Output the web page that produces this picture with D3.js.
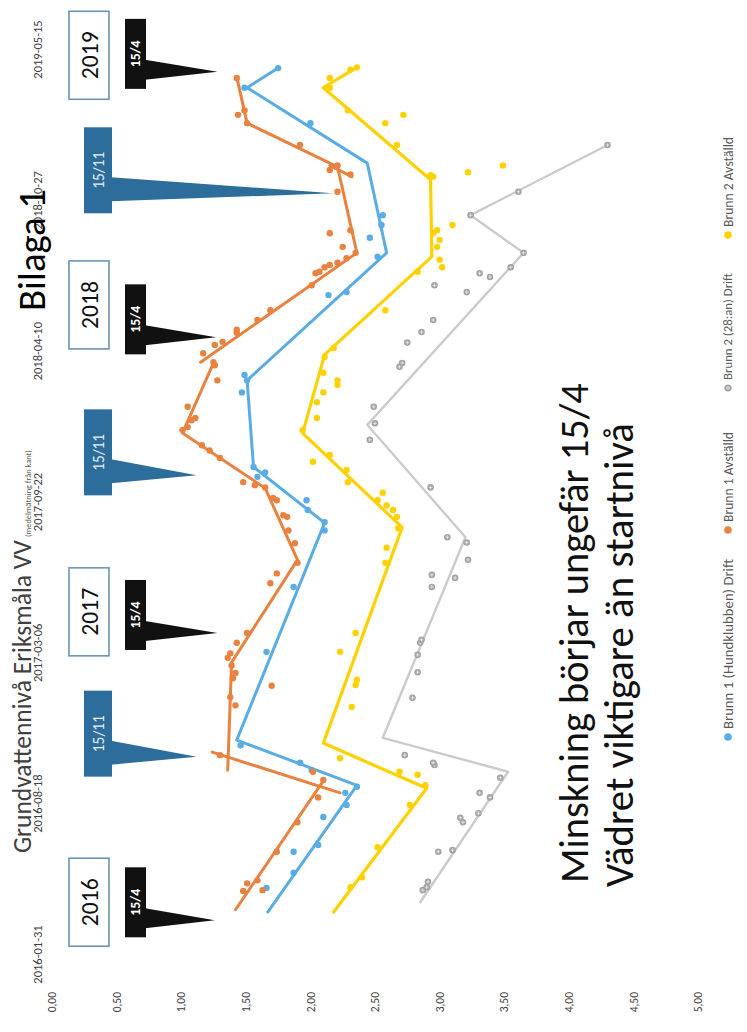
<!DOCTYPE html>
<html><head><meta charset="utf-8">
<script src="https://cdn.jsdelivr.net/npm/d3@7"></script>
<style>
body{margin:0;background:#fff}
svg{display:block}
text{font-family:Carlito,Lato,"Open Sans",sans-serif}
</style></head>
<body><svg id="c" width="747" height="1032"></svg>
<script>
// ---------------- DATA ----------------
const dateTicks = ["2016-01-31","2016-08-18","2017-03-06","2017-09-22","2018-04-10","2018-10-27","2019-05-15"];
const valueTicks = [0,0.5,1,1.5,2,2.5,3,3.5,4,4.5,5];
const seriesNames = ["Brunn 1 (Hundklubben) Drift","Brunn 1 Avställd","Brunn 2 (28:an) Drift","Brunn 2 Avställd"];

// Brunn 1 (Hundklubben) Drift – blue
const brunn1DriftPoints = [["2016-04-29",1.66],["2016-05-19",1.87],["2016-06-16",1.87],["2016-06-25",2.06],["2016-08-01",2.10],["2016-08-17",2.28],["2016-09-02",2.27],["2016-09-10",2.36],["2016-10-02",2.01],["2016-10-12",1.92],["2016-11-04",1.46],["2017-03-08",1.66],["2017-06-02",1.87],["2017-08-16",2.11],["2017-08-27",2.11],["2017-09-12",1.98],["2017-09-25",1.97],["2017-10-26",1.59],["2017-11-01",1.65],["2017-11-08",1.56],["2018-02-15",1.47],["2018-03-03",1.51],["2018-03-10",1.49],["2018-06-24",2.14],["2018-06-28",2.28],["2018-08-14",2.52],["2018-09-08",2.46],["2018-09-25",2.55],["2018-10-08",2.56],["2019-02-07",2.00],["2019-03-26",1.49],["2019-04-21",1.75]];
const brunn1DriftLines = [[["2016-03-28",1.67],["2016-09-12",2.36],["2016-11-11",1.43],["2017-08-26",2.11],["2017-11-08",1.56],["2018-03-03",1.51],["2018-08-19",2.59],["2018-12-16",2.44],["2019-03-26",1.51],["2019-04-21",1.75]]];

// Brunn 1 Avställd – orange
const brunn1AvstPoints = [["2016-04-25",1.48],["2016-04-26",1.63],["2016-05-05",1.51],["2016-05-09",1.59],["2016-06-16",1.74],["2016-07-25",1.90],["2016-08-27",2.06],["2016-09-19",2.10],["2016-09-30",2.02],["2016-10-22",1.30],["2016-12-27",1.42],["2017-01-07",1.38],["2017-01-22",1.70],["2017-02-01",1.40],["2017-02-08",1.42],["2017-02-18",1.39],["2017-02-28",1.36],["2017-03-06",1.38],["2017-03-20",1.43],["2017-04-02",1.51],["2017-06-07",1.69],["2017-06-20",1.74],["2017-07-04",1.90],["2017-07-30",1.88],["2017-08-16",1.83],["2017-09-03",1.82],["2017-09-05",1.79],["2017-09-25",1.74],["2017-09-28",1.71],["2017-10-12",1.65],["2017-10-15",1.57],["2017-10-19",1.48],["2017-11-20",1.30],["2017-11-30",1.22],["2017-12-07",1.16],["2017-12-27",1.01],["2017-12-31",1.05],["2018-01-09",1.08],["2018-01-12",1.11],["2018-01-27",1.05],["2018-03-03",1.28],["2018-03-23",1.26],["2018-03-27",1.25],["2018-04-08",1.17],["2018-04-19",1.26],["2018-04-23",1.32],["2018-05-05",1.43],["2018-05-09",1.43],["2018-05-22",1.59],["2018-06-04",1.69],["2018-07-07",2.01],["2018-07-23",2.04],["2018-07-25",2.07],["2018-07-31",2.11],["2018-08-03",2.15],["2018-08-06",2.21],["2018-08-12",2.28],["2018-08-19",2.35],["2018-08-27",2.25],["2018-09-14",2.15],["2018-09-18",2.31],["2018-11-08",2.21],["2018-12-01",2.31],["2018-12-07",2.15],["2018-12-13",2.21],["2019-01-09",1.92],["2019-02-07",1.51],["2019-02-18",1.44],["2019-02-24",1.49],["2019-04-08",1.43]];
const brunn1AvstLines = [
  [["2016-03-31",1.42],["2016-09-18",2.10]],
  [["2016-09-02",2.23],["2016-10-26",1.24]],
  [["2016-10-02",1.36],["2017-02-22",1.39],["2017-07-08",1.90],["2017-10-11",1.65],["2017-12-23",1.01],["2018-03-26",1.25]],
  [["2018-03-27",1.15],["2018-08-19",2.36],["2018-12-11",2.21],["2019-02-07",1.51],["2019-04-09",1.43]],
  [["2018-11-28",2.32],["2018-12-13",2.15]]
];

// Brunn 2 (28:an) Drift – gray
const brunn2DriftPoints = [["2016-04-26",2.87],["2016-04-30",2.90],["2016-05-07",2.91],["2016-06-16",2.99],["2016-06-18",3.10],["2016-07-25",3.18],["2016-07-31",3.16],["2016-08-06",3.30],["2016-08-27",3.39],["2016-09-02",3.31],["2016-09-22",3.47],["2016-10-09",2.96],["2016-10-12",2.95],["2016-10-22",2.73],["2017-01-06",2.79],["2017-02-09",2.83],["2017-03-04",2.83],["2017-03-20",2.85],["2017-03-24",2.86],["2017-06-02",2.94],["2017-06-14",3.12],["2017-06-18",2.94],["2017-07-08",3.22],["2017-07-31",3.21],["2017-08-07",3.06],["2017-10-12",2.93],["2017-12-14",2.46],["2018-01-05",2.50],["2018-01-27",2.49],["2018-03-21",2.69],["2018-03-26",2.71],["2018-04-22",2.75],["2018-05-06",2.86],["2018-05-22",2.95],["2018-06-28",3.21],["2018-07-07",2.96],["2018-07-18",3.39],["2018-07-23",3.31],["2018-07-31",3.55],["2018-08-19",3.65],["2018-10-08",3.24],["2018-11-08",3.61],["2019-01-09",4.30]];
const brunn2DriftLines = [[["2016-04-10",2.85],["2016-09-30",3.53],["2016-11-14",2.56],["2017-08-07",3.20],["2018-01-03",2.44],["2018-08-19",3.65],["2018-10-08",3.24],["2019-01-09",4.30]]];

// Brunn 2 Avställd – yellow
const brunn2AvstPoints = [["2016-04-30",2.31],["2016-05-13",2.40],["2016-06-22",2.52],["2016-08-17",2.77],["2016-09-12",2.89],["2016-09-26",2.83],["2016-09-30",2.69],["2016-10-18",2.23],["2016-12-25",2.32],["2017-01-23",2.35],["2017-01-30",2.36],["2017-03-08",2.23],["2017-04-02",2.35],["2017-07-04",2.58],["2017-07-24",2.59],["2017-08-19",2.68],["2017-09-03",2.67],["2017-09-12",2.64],["2017-09-18",2.59],["2017-09-25",2.52],["2017-10-05",2.56],["2017-10-19",2.29],["2017-11-04",2.28],["2017-11-15",2.02],["2017-11-24",2.15],["2017-12-27",1.94],["2018-01-12",2.05],["2018-02-02",2.05],["2018-02-15",2.10],["2018-02-25",2.21],["2018-03-03",2.21],["2018-03-13",2.10],["2018-04-03",2.11],["2018-04-15",2.18],["2018-06-04",2.58],["2018-07-25",2.83],["2018-07-31",3.02],["2018-08-10",3.00],["2018-08-27",2.98],["2018-09-05",3.00],["2018-09-14",2.95],["2018-09-18",2.98],["2018-09-25",3.10],["2018-11-28",2.95],["2018-11-30",2.93],["2018-12-04",3.22],["2018-12-13",3.49],["2019-01-09",2.67],["2019-02-07",2.58],["2019-02-18",2.72],["2019-02-24",2.29],["2019-03-26",2.15],["2019-04-08",2.15],["2019-04-19",2.31],["2019-04-22",2.36]];
const brunn2AvstLines = [[["2016-03-28",2.18],["2016-09-08",2.90],["2016-11-07",2.10],["2017-08-20",2.71],["2017-12-23",1.94],["2018-04-06",2.11],["2018-08-14",2.94],["2018-11-24",2.93],["2019-03-26",2.10],["2019-04-22",2.36]]];

// annotations
const yearLabels = ["2016","2017","2018","2019"];
const yearDates = ["2016-04-10","2017-04-30","2018-06-11","2019-05-08"];
const aprilTips = [["2016-03-17",1.26],["2017-04-02",1.28],["2018-04-29",1.27],["2019-04-16",1.28]];
const novTips = [["2016-10-20",1.12],["2017-10-28",1.12],["2018-11-06",2.175]];
const titleText = "Grundvattennivå Eriksmåla VV";
const subtitleText = "(medelmätning från kant)";
const noteLines = ["Minskning börjar ungefär 15/4","Vädret viktigare än startnivå"];

// ---------------- DRAW ----------------
const parse = d3.timeParse("%Y-%m-%d");
const svg = d3.select("#c");
const g = svg.append("g").attr("transform","translate(0,1032) rotate(-90)");
const x = d3.scaleTime().domain([parse("2016-01-31"),parse("2019-05-15")]).range([77,982]);
const y = d3.scaleLinear().domain([0,5]).range([52,698]);
const comma = d3.formatLocale({decimal:",",thousands:" ",grouping:[3],currency:["","kr"]}).format(".2f");

const C = {blue:"#5aace4",orange:"#e9823f",grayLine:"#cbcbcb",grayPt:"#a4a4a4",yellow:"#ffd100"};

function fit(sel,w){const L=sel.node().getComputedTextLength();const fs=parseFloat(sel.attr("font-size"));sel.attr("font-size",(fs*w/L).toFixed(2));return sel;}

// axes
const xa = g.append("g").attr("transform","translate(0,44)")
  .call(d3.axisTop(x).tickValues(dateTicks.map(parse)).tickFormat(d3.timeFormat("%Y-%m-%d")).tickSize(0).tickPadding(2));
xa.select(".domain").remove();
xa.selectAll("text").attr("font-size",12.5).attr("fill","#404040").style("font-family","Carlito,Lato,sans-serif");

const ya = g.append("g").attr("transform","translate(42,0)")
  .call(d3.axisLeft(y).tickValues(valueTicks).tickFormat(comma).tickSize(0).tickPadding(2));
ya.select(".domain").remove();
ya.selectAll("text").attr("font-size",11.5).attr("fill","#404040").style("font-family","Carlito,Lato,sans-serif");

// title
fit(g.append("text").attr("x",179).attr("y",31).attr("font-size",22).attr("fill","#404040").text(titleText),313);
fit(g.append("text").attr("x",495).attr("y",31).attr("font-size",9).attr("fill","#595959").text(subtitleText),87);

const line = d3.line().x(d=>x(parse(d[0]))).y(d=>y(d[1]));

function drawLines(arr,color,w){
  g.append("g").selectAll("path").data(arr).join("path").attr("d",line)
   .attr("fill","none").attr("stroke",color).attr("stroke-width",w).attr("stroke-linecap","round").attr("stroke-linejoin","round");
}
function drawPts(arr,color,r){
  g.append("g").selectAll("circle").data(arr).join("circle")
   .attr("cx",d=>x(parse(d[0]))).attr("cy",d=>y(d[1])).attr("r",r).attr("fill",color);
}
function drawGrayPts(arr){
  const s=g.append("g").selectAll("g").data(arr).join("g")
   .attr("transform",d=>`translate(${x(parse(d[0]))},${y(d[1])})`);
  s.append("circle").attr("r",3.3).attr("fill",C.grayPt);
  s.append("path").attr("d","M-1.8,0H1.8M0,-1.8V1.8").attr("stroke","#eeeeee").attr("stroke-width",0.8);
}

drawLines(brunn2DriftLines,C.grayLine,2.4);
drawGrayPts(brunn2DriftPoints);
drawLines(brunn2AvstLines,C.yellow,3.2);
drawPts(brunn2AvstPoints,C.yellow,3.2);
drawLines(brunn1DriftLines,C.blue,3);
drawPts(brunn1DriftPoints,C.blue,3.2);
drawLines(brunn1AvstLines,C.orange,3);
drawPts(brunn1AvstPoints,C.orange,3.2);

// legend
const legX = [295,502,644,797];
const legW = [170,90,107,90];
const legC = [C.blue,C.orange,C.grayPt,C.yellow];
seriesNames.forEach((n,i)=>{
  if(i===2){
    g.append("circle").attr("cx",legX[i]).attr("cy",728).attr("r",3.6).attr("fill",C.grayPt);
    g.append("path").attr("transform",`translate(${legX[i]},728)`).attr("d","M-2,0H2M0,-2V2").attr("stroke","#eee").attr("stroke-width",0.8);
  } else {
    g.append("circle").attr("cx",legX[i]).attr("cy",728).attr("r",3.8).attr("fill",legC[i]);
  }
  fit(g.append("text").attr("x",legX[i]+8).attr("y",728).attr("dy","0.35em").attr("font-size",12).attr("fill","#595959").text(n),legW[i]);
});

// year boxes
yearLabels.forEach((t,i)=>{
  const cx = x(parse(yearDates[i]));
  g.append("rect").attr("x",cx-44).attr("y",69).attr("width",88).attr("height",40)
   .attr("fill","#fff").attr("stroke","#6b93b5").attr("stroke-width",1.6);
  fit(g.append("text").attr("x",cx).attr("y",89).attr("dy","0.36em").attr("text-anchor","middle").attr("font-size",22).attr("fill","#111").text(t),48);
});

// 15/4 black callouts
aprilTips.forEach(d=>{
  const tx=x(parse(d[0])), ty=y(d[1]);
  g.append("path").attr("d",`M${tx-8},145 L${tx},${ty} L${tx+12},145 Z`).attr("fill","#111");
  g.append("rect").attr("x",tx+18-35).attr("y",125).attr("width",70).attr("height",21).attr("fill","#111");
  fit(g.append("text").attr("x",tx+18).attr("y",135.5).attr("dy","0.36em").attr("text-anchor","middle")
   .attr("font-size",12).attr("font-weight","bold").attr("fill","#fff").text("15/4"),27);
});
// 15/11 blue callouts
novTips.forEach(d=>{
  const tx=x(parse(d[0])), ty=y(d[1]);
  g.append("path").attr("d",`M${tx-8},111 L${tx},${ty} L${tx+16},111 Z`).attr("fill","#2d6d9c");
  g.append("rect").attr("x",tx+23-43).attr("y",84).attr("width",86).attr("height",28).attr("fill","#2d6d9c");
  fit(g.append("text").attr("x",tx+23).attr("y",98).attr("dy","0.36em").attr("text-anchor","middle")
   .attr("font-size",12).attr("fill","#e8eef4").text("15/11"),37);
});

// note text
fit(g.append("text").attr("x",149).attr("y",588).attr("font-size",38).attr("fill","#111").text(noteLines[0]),500);
fit(g.append("text").attr("x",145).attr("y",633).attr("font-size",38).attr("fill","#111").text(noteLines[1]),464);

// Bilaga 1
fit(g.append("text").attr("x",721).attr("y",45).attr("font-size",30).attr("fill","#000").text("Bilaga 1"),122);
</script></body></html>
